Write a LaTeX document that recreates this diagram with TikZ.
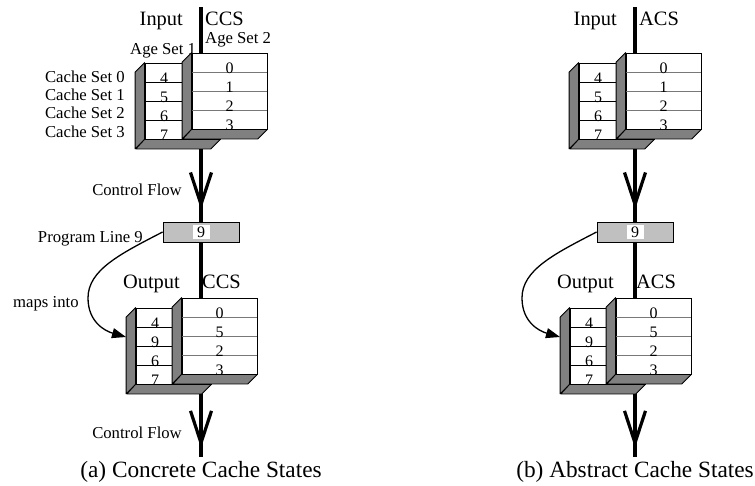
\documentclass[tikz,border=0pt]{standalone}
\usepackage{fontspec}
\setmainfont{Liberation Serif}
\usetikzlibrary{arrows.meta}

\definecolor{wallgray}{RGB}{128,128,128}
\definecolor{linegray}{RGB}{192,192,192}
\definecolor{rulegray}{RGB}{120,120,120}

\tikzset{
  flowline/.style={line width=3.2pt},
  flowtip/.style={flowline, -{Straight Barb[length=32pt,width=21pt]}},
  trayface/.style={draw=black, fill=white, line width=0.8pt,
    minimum width=75pt, minimum height=76pt, inner sep=0pt},
  wallpart/.style={fill=wallgray, draw=black, line width=0.8pt, line join=round},
  digitlbl/.style={font=\fontsize{16}{16}\selectfont, inner sep=0pt, anchor=base},
  notelbl/.style={font=\fontsize{16.7}{17}\selectfont, inner sep=0pt},
  headlbl/.style={font=\fontsize{20.4}{21}\selectfont, inner sep=0pt},
  captionlbl/.style={font=\fontsize{23.3}{24}\selectfont, inner sep=0pt, anchor=base},
  linebox/.style={draw=black, fill=linegray, line width=0.8pt,
    minimum width=76pt, minimum height=20pt, inner sep=0pt},
  linenum/.style={fill=white, inner sep=0pt, minimum width=17pt,
    minimum height=14pt, font=\fontsize{16}{16}\selectfont},
  mapsto/.style={line width=1.3pt, -{Triangle[length=14pt,width=10pt]}},
}

% One tray of a cache state: white face with four rows, grey wall and floor.
% #1 name, #2 left x, #3 top y, #4 digit x offset, #5 rule colour, #6 entries
\newcommand\cachetray[6]{%
  \node[trayface] (#1) at ({#2+37.5},{#3+38}) {};
  \foreach \k in {1,2,3}
    \draw[#5, line width=0.8pt] ({#2},{#3+19*\k}) -- ({#2+75},{#3+19*\k});
  \foreach \d [count=\k] in {#6}
    \node[digitlbl] (#1-\k) at ({#2+#4},{#3+19*\k+1}) {\d};
  \draw[wallpart] (#1.north west) -- (#1.south west) -- ++(-9.5,9.5)
    -- ([shift={(-9.5,9.5)}]#1.north west) -- cycle;
  \draw[wallpart] (#1.south west) -- (#1.south east) -- ++(-9.5,9.5)
    -- ++(-75,0) -- cycle;
}

% Input state, program line, output state and control flow.
% #1 prefix, #2 kind of state, #3 caption
\newcommand\cachestates[3]{%
  \coordinate (#1-top) at (201,7);
  \coordinate (#1-end) at (201,457);
  \coordinate (#1-hit) at (126,337);
  \node[linebox] (#1-line) at (201,232) {};
  \node[linenum] (#1-num) at (#1-line.center) {9};
  \draw[flowline] (#1-top) -- (#1-line.north);
  \draw[flowtip] (#1-top) -- ([yshift=12pt]#1-line.north);
  \draw[flowline] (#1-line.south) -- (#1-end);
  \draw[flowtip] (#1-line.south) -- ([yshift=9pt]#1-end);
  \node[headlbl, anchor=base east] (#1-inlbl) at (183,25) {Input};
  \node[headlbl, anchor=base west] (#1-inkind) at (205,25) {#2};
  \node[headlbl, anchor=base east] (#1-outlbl) at (180,288) {Output};
  \node[headlbl, anchor=base west] (#1-outkind) at (202,288) {#2};
  \cachetray{#1-inL}{145}{63}{19}{black}{4,5,6,7}
  \cachetray{#1-inR}{192}{53}{37.5}{rulegray}{0,1,2,3}
  \cachetray{#1-outL}{136}{308}{19}{black}{4,9,6,7}
  \cachetray{#1-outR}{182}{298}{37.5}{rulegray}{0,5,2,3}
  \draw[mapsto] (#1-line.west) .. controls (120,254) and (88,270) .. (88,298)
    .. controls (88,322) and (105,331) .. (#1-hit);
  \node[captionlbl] (#1-cap) at (201,477) {#3};
}

\begin{document}
\begin{tikzpicture}[x=1pt, y=-1pt]
\useasboundingbox (0,0) rectangle (755,485);

% annotations of the concrete states
\node[notelbl, anchor=base west] (ageone) at (130,54) {Age Set 1};
\node[notelbl, anchor=base west] (agetwo) at (205,43) {Age Set 2};
\node[notelbl, anchor=base east] (set0) at (125,82) {Cache Set 0};
\node[notelbl, anchor=base east] (set1) at (125,100) {Cache Set 1};
\node[notelbl, anchor=base east] (set2) at (125,118.5) {Cache Set 2};
\node[notelbl, anchor=base east] (set3) at (125,137) {Cache Set 3};
\node[notelbl, anchor=base east] (flowa) at (182,195) {Control Flow};
\node[notelbl, anchor=base east] (flowb) at (182,438) {Control Flow};
\node[notelbl, anchor=base east] (progline) at (143,242) {Program Line 9};
\node[notelbl, anchor=base west] (mapsinto) at (13,307) {maps into};

\cachestates{a}{CCS}{(a) Concrete Cache States}
\begin{scope}[xshift=434pt]
  \cachestates{b}{ACS}{(b) Abstract Cache States}
\end{scope}
\end{tikzpicture}
\end{document}
